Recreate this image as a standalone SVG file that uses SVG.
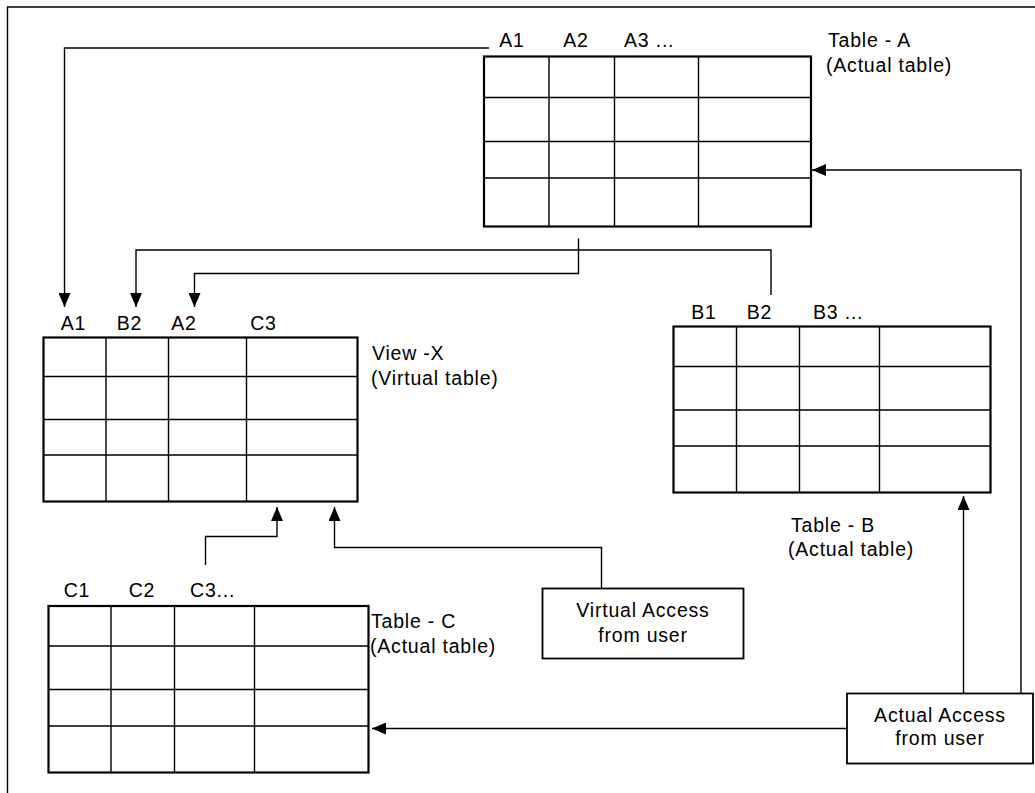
<svg xmlns="http://www.w3.org/2000/svg" width="1035" height="793" viewBox="0 0 1035 793">
<style>
text{font-family:"Liberation Sans",Arial,sans-serif;font-size:19.5px;letter-spacing:0.8px;fill:#000}
.m{text-anchor:middle}
.frame{fill:#fff;stroke:#000;stroke-width:2.2}
.grid{stroke:#000;stroke-width:1.4;fill:none}
.conn{stroke:#000;stroke-width:1.4;fill:none}
.box{fill:#fff;stroke:#000;stroke-width:1.8}
</style>
<defs>
<marker id="ah" viewBox="0 0 14 12" refX="14" refY="6" markerWidth="14" markerHeight="12" markerUnits="userSpaceOnUse" orient="auto">
<path d="M0,0 L14,6 L0,12 Z" fill="#000"/>
</marker>
</defs>
<rect width="1035" height="793" fill="#fff"/>
<g id="border">
<path d="M7.5,793 V7 H1035" class="conn"/>
</g>
<g id="connectors">
<path class="conn" d="M489,48 H64.5 V307" marker-end="url(#ah)"/>
<path class="conn" d="M578.5,238.5 V273.5 H194.5 V307" marker-end="url(#ah)"/>
<path class="conn" d="M771,295 V250 H136 V307" marker-end="url(#ah)"/>
<path class="conn" d="M1021,693 V170 H812" marker-end="url(#ah)"/>
<path class="conn" d="M963.5,693 V496" marker-end="url(#ah)"/>
<path class="conn" d="M847,728.5 H372" marker-end="url(#ah)"/>
<path class="conn" d="M205.5,565 V536.5 H277 V507" marker-end="url(#ah)"/>
<path class="conn" d="M601.5,588 V547.5 H334.5 V507" marker-end="url(#ah)"/>
</g>
<g id="tableA">
<rect class="frame" x="484" y="56.5" width="327" height="170"/>
<path class="grid" d="M549,56.5 V226.5 M614.5,56.5 V226.5 M698.5,56.5 V226.5 M484,97.5 H811 M484,141.5 H811 M484,178 H811"/>
<text class="m" x="512" y="47">A1</text>
<text class="m" x="576" y="47">A2</text>
<text x="624" y="47">A3 ...</text>
<text x="828" y="47">Table - A</text>
<text x="826" y="72">(Actual table)</text>
</g>
<g id="viewX">
<rect class="frame" x="43.5" y="337.5" width="314" height="164"/>
<path class="grid" d="M106,337.5 V501.5 M168.5,337.5 V501.5 M246.5,337.5 V501.5 M43.5,376.5 H357.5 M43.5,419.5 H357.5 M43.5,455 H357.5"/>
<text class="m" x="73.5" y="330">A1</text>
<text class="m" x="129.5" y="330">B2</text>
<text class="m" x="184" y="330">A2</text>
<text class="m" x="263.5" y="330">C3</text>
<text x="372" y="360">View -X</text>
<text x="371" y="385">(Virtual table)</text>
</g>
<g id="tableB">
<rect class="frame" x="673.5" y="326.5" width="317" height="166"/>
<path class="grid" d="M736.5,326.5 V492.5 M799.5,326.5 V492.5 M879.5,326.5 V492.5 M673.5,366.5 H990.5 M673.5,410 H990.5 M673.5,446 H990.5"/>
<text class="m" x="704" y="319">B1</text>
<text class="m" x="759.5" y="319">B2</text>
<text x="813" y="319">B3 ...</text>
<text x="791" y="531.5">Table - B</text>
<text x="788" y="556">(Actual table)</text>
</g>
<g id="tableC">
<rect class="frame" x="48.5" y="606" width="320" height="166.5"/>
<path class="grid" d="M111,606 V772.5 M174.5,606 V772.5 M254.5,606 V772.5 M48.5,646 H368.5 M48.5,689.5 H368.5 M48.5,726 H368.5"/>
<text class="m" x="77" y="597">C1</text>
<text class="m" x="142" y="597">C2</text>
<text x="190" y="597">C3...</text>
<text x="371" y="628">Table - C</text>
<text x="370" y="653">(Actual table)</text>
</g>
<g id="virtualAccess">
<rect class="box" x="542.5" y="588.5" width="201" height="70"/>
<text class="m" x="643" y="617">Virtual Access</text>
<text class="m" x="643" y="642">from user</text>
</g>
<g id="actualAccess">
<rect class="box" x="847" y="693.5" width="186" height="70"/>
<text class="m" x="940" y="722">Actual Access</text>
<text class="m" x="940" y="745">from user</text>
</g>
</svg>
